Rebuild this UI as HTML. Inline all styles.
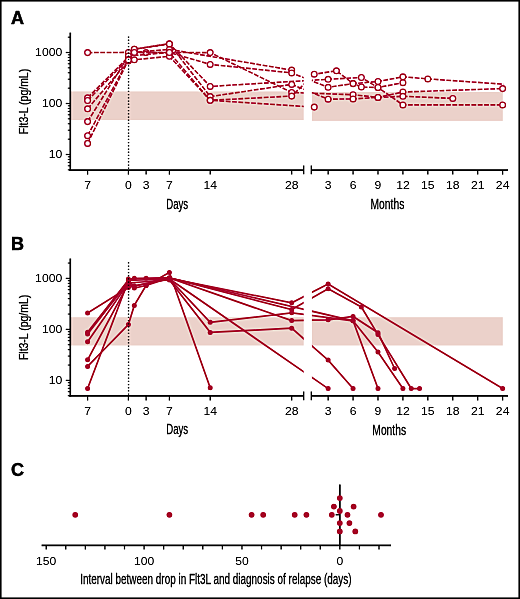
<!DOCTYPE html><html><head><meta charset="utf-8"><style>html,body{margin:0;padding:0;background:#fff;}svg{display:block;will-change:transform;}text{font-family:"Liberation Sans",sans-serif;}</style></head><body><svg width="520" height="599" viewBox="0 0 520 599" font-family="Liberation Sans, sans-serif">
<defs>
<clipPath id="cl"><rect x="70" y="0" width="233.7" height="599"/></clipPath>
<clipPath id="cr"><rect x="311.9" y="0" width="191.5" height="599"/></clipPath>
<filter id="sh" x="0" y="0" width="520" height="599" filterUnits="userSpaceOnUse" color-interpolation-filters="sRGB"><feGaussianBlur in="SourceGraphic" stdDeviation="1" result="b"/><feComposite in="SourceGraphic" in2="b" operator="arithmetic" k1="0" k2="1.45" k3="-0.45" k4="0"/></filter>
</defs>
<g filter="url(#sh)">
<rect x="0" y="0" width="520" height="599" fill="#fff"/>
<rect x="71" y="91.4" width="232.7" height="28.69999999999999" fill="#ebd1ca"/>
<rect x="311.9" y="91.9" width="190.90000000000003" height="29.0" fill="#ebd1ca"/>
<polyline clip-path="url(#cl)" fill="none" stroke="#a8002c" stroke-width="1.6" stroke-dasharray="4.8 1.55" points="87.60,52.60 128.40,52.40 146.10,52.60 169.40,52.50 210.20,52.60 291.70,92.50 353.06,94.70 377.99,97.40 402.92,92.00 502.64,88.60"/>
<polyline clip-path="url(#cr)" fill="none" stroke="#a8002c" stroke-width="1.6" stroke-dasharray="4.8 1.55" points="87.60,52.60 128.40,52.40 146.10,52.60 169.40,52.50 210.20,52.60 291.70,92.50 353.06,94.70 377.99,97.40 402.92,92.00 502.64,88.60"/>
<g fill="#fff" stroke="#a8002c" stroke-width="1.35">
<circle cx="87.60" cy="52.60" r="2.85"/>
<circle cx="128.40" cy="52.40" r="2.85"/>
<circle cx="146.10" cy="52.60" r="2.85"/>
<circle cx="169.40" cy="52.50" r="2.85"/>
<circle cx="210.20" cy="52.60" r="2.85"/>
<circle cx="291.70" cy="92.50" r="2.85"/>
<circle cx="353.06" cy="94.70" r="2.85"/>
<circle cx="377.99" cy="97.40" r="2.85"/>
<circle cx="402.92" cy="92.00" r="2.85"/>
<circle cx="502.64" cy="88.60" r="2.85"/>
</g>
<polyline clip-path="url(#cl)" fill="none" stroke="#a8002c" stroke-width="1.6" stroke-dasharray="4.8 1.55" points="87.60,97.80 128.40,57.00 134.30,49.20 169.40,43.70 210.20,86.40 328.13,79.30 361.37,77.50 377.99,87.50 402.92,104.90 502.64,104.90"/>
<polyline clip-path="url(#cr)" fill="none" stroke="#a8002c" stroke-width="1.6" stroke-dasharray="4.8 1.55" points="87.60,97.80 128.40,57.00 134.30,49.20 169.40,43.70 210.20,86.40 328.13,79.30 361.37,77.50 377.99,87.50 402.92,104.90 502.64,104.90"/>
<g fill="#fff" stroke="#a8002c" stroke-width="1.35">
<circle cx="87.60" cy="97.80" r="2.85"/>
<circle cx="128.40" cy="57.00" r="2.85"/>
<circle cx="134.30" cy="49.20" r="2.85"/>
<circle cx="169.40" cy="43.70" r="2.85"/>
<circle cx="210.20" cy="86.40" r="2.85"/>
<circle cx="328.13" cy="79.30" r="2.85"/>
<circle cx="361.37" cy="77.50" r="2.85"/>
<circle cx="377.99" cy="87.50" r="2.85"/>
<circle cx="402.92" cy="104.90" r="2.85"/>
<circle cx="502.64" cy="104.90" r="2.85"/>
</g>
<polyline clip-path="url(#cl)" fill="none" stroke="#a8002c" stroke-width="1.6" stroke-dasharray="4.8 1.55" points="87.60,100.50 128.40,58.50 134.30,52.40 169.40,49.40 291.70,70.10"/>
<polyline clip-path="url(#cr)" fill="none" stroke="#a8002c" stroke-width="1.6" stroke-dasharray="4.8 1.55" points="87.60,100.50 128.40,58.50 134.30,52.40 169.40,49.40 291.70,70.10"/>
<g fill="#fff" stroke="#a8002c" stroke-width="1.35">
<circle cx="87.60" cy="100.50" r="2.85"/>
<circle cx="128.40" cy="58.50" r="2.85"/>
<circle cx="134.30" cy="52.40" r="2.85"/>
<circle cx="169.40" cy="49.40" r="2.85"/>
<circle cx="291.70" cy="70.10" r="2.85"/>
</g>
<polyline clip-path="url(#cl)" fill="none" stroke="#a8002c" stroke-width="1.6" stroke-dasharray="4.8 1.55" points="87.60,108.80 128.40,61.00 134.30,49.20 169.40,43.90 210.20,96.60 291.70,84.40 328.13,99.20 353.06,98.90 377.99,97.40 402.92,96.30 452.78,98.40"/>
<polyline clip-path="url(#cr)" fill="none" stroke="#a8002c" stroke-width="1.6" stroke-dasharray="4.8 1.55" points="87.60,108.80 128.40,61.00 134.30,49.20 169.40,43.90 210.20,96.60 291.70,84.40 328.13,99.20 353.06,98.90 377.99,97.40 402.92,96.30 452.78,98.40"/>
<g fill="#fff" stroke="#a8002c" stroke-width="1.35">
<circle cx="87.60" cy="108.80" r="2.85"/>
<circle cx="128.40" cy="61.00" r="2.85"/>
<circle cx="134.30" cy="49.20" r="2.85"/>
<circle cx="169.40" cy="43.90" r="2.85"/>
<circle cx="210.20" cy="96.60" r="2.85"/>
<circle cx="291.70" cy="84.40" r="2.85"/>
<circle cx="328.13" cy="99.20" r="2.85"/>
<circle cx="353.06" cy="98.90" r="2.85"/>
<circle cx="377.99" cy="97.40" r="2.85"/>
<circle cx="402.92" cy="96.30" r="2.85"/>
<circle cx="452.78" cy="98.40" r="2.85"/>
</g>
<polyline clip-path="url(#cl)" fill="none" stroke="#a8002c" stroke-width="1.6" stroke-dasharray="4.8 1.55" points="87.60,121.60 128.40,56.00 169.40,52.50 210.20,64.40 291.70,72.90 328.13,87.30 353.06,83.60 361.37,87.00 377.99,87.50 402.92,82.70"/>
<polyline clip-path="url(#cr)" fill="none" stroke="#a8002c" stroke-width="1.6" stroke-dasharray="4.8 1.55" points="87.60,121.60 128.40,56.00 169.40,52.50 210.20,64.40 291.70,72.90 328.13,87.30 353.06,83.60 361.37,87.00 377.99,87.50 402.92,82.70"/>
<g fill="#fff" stroke="#a8002c" stroke-width="1.35">
<circle cx="87.60" cy="121.60" r="2.85"/>
<circle cx="128.40" cy="56.00" r="2.85"/>
<circle cx="169.40" cy="52.50" r="2.85"/>
<circle cx="210.20" cy="64.40" r="2.85"/>
<circle cx="291.70" cy="72.90" r="2.85"/>
<circle cx="328.13" cy="87.30" r="2.85"/>
<circle cx="353.06" cy="83.60" r="2.85"/>
<circle cx="361.37" cy="87.00" r="2.85"/>
<circle cx="377.99" cy="87.50" r="2.85"/>
<circle cx="402.92" cy="82.70" r="2.85"/>
</g>
<polyline clip-path="url(#cl)" fill="none" stroke="#a8002c" stroke-width="1.6" stroke-dasharray="4.8 1.55" points="87.60,135.70 128.40,59.50 134.30,59.80 169.40,56.30 210.20,100.30 314.25,107.10"/>
<polyline clip-path="url(#cr)" fill="none" stroke="#a8002c" stroke-width="1.6" stroke-dasharray="4.8 1.55" points="87.60,135.70 128.40,59.50 134.30,59.80 169.40,56.30 210.20,100.30 314.25,107.10"/>
<g fill="#fff" stroke="#a8002c" stroke-width="1.35">
<circle cx="87.60" cy="135.70" r="2.85"/>
<circle cx="128.40" cy="59.50" r="2.85"/>
<circle cx="134.30" cy="59.80" r="2.85"/>
<circle cx="169.40" cy="56.30" r="2.85"/>
<circle cx="210.20" cy="100.30" r="2.85"/>
<circle cx="314.25" cy="107.10" r="2.85"/>
</g>
<polyline clip-path="url(#cl)" fill="none" stroke="#a8002c" stroke-width="1.6" stroke-dasharray="4.8 1.55" points="87.60,143.40 128.40,60.00 134.30,52.40 169.40,52.50 210.20,100.30 291.70,96.10 314.25,74.20 336.44,70.80 353.06,83.60 377.99,81.50 402.92,76.80 427.85,78.90 519.26,85.30"/>
<polyline clip-path="url(#cr)" fill="none" stroke="#a8002c" stroke-width="1.6" stroke-dasharray="4.8 1.55" points="87.60,143.40 128.40,60.00 134.30,52.40 169.40,52.50 210.20,100.30 291.70,96.10 314.25,74.20 336.44,70.80 353.06,83.60 377.99,81.50 402.92,76.80 427.85,78.90 519.26,85.30"/>
<g fill="#fff" stroke="#a8002c" stroke-width="1.35">
<circle cx="87.60" cy="143.40" r="2.85"/>
<circle cx="128.40" cy="60.00" r="2.85"/>
<circle cx="134.30" cy="52.40" r="2.85"/>
<circle cx="169.40" cy="52.50" r="2.85"/>
<circle cx="210.20" cy="100.30" r="2.85"/>
<circle cx="291.70" cy="96.10" r="2.85"/>
<circle cx="314.25" cy="74.20" r="2.85"/>
<circle cx="336.44" cy="70.80" r="2.85"/>
<circle cx="353.06" cy="83.60" r="2.85"/>
<circle cx="377.99" cy="81.50" r="2.85"/>
<circle cx="402.92" cy="76.80" r="2.85"/>
<circle cx="427.85" cy="78.90" r="2.85"/>
</g>
<line x1="128.55" y1="36.4" x2="128.55" y2="170" stroke="#000" stroke-width="1.35" stroke-dasharray="1.3 1.9" />
<line x1="70.3" y1="32.6" x2="70.3" y2="170.9" stroke="#000" stroke-width="1.7"/>
<line x1="67.8" y1="169.85" x2="70.5" y2="169.85" stroke="#000" stroke-width="1.1"/>
<line x1="67.8" y1="165.81" x2="70.5" y2="165.81" stroke="#000" stroke-width="1.1"/>
<line x1="67.8" y1="162.40" x2="70.5" y2="162.40" stroke="#000" stroke-width="1.1"/>
<line x1="67.8" y1="159.44" x2="70.5" y2="159.44" stroke="#000" stroke-width="1.1"/>
<line x1="67.8" y1="156.83" x2="70.5" y2="156.83" stroke="#000" stroke-width="1.1"/>
<line x1="65.8" y1="154.50" x2="70.5" y2="154.50" stroke="#000" stroke-width="1.3"/>
<line x1="67.8" y1="139.15" x2="70.5" y2="139.15" stroke="#000" stroke-width="1.1"/>
<line x1="67.8" y1="130.17" x2="70.5" y2="130.17" stroke="#000" stroke-width="1.1"/>
<line x1="67.8" y1="123.79" x2="70.5" y2="123.79" stroke="#000" stroke-width="1.1"/>
<line x1="67.8" y1="118.85" x2="70.5" y2="118.85" stroke="#000" stroke-width="1.1"/>
<line x1="67.8" y1="114.81" x2="70.5" y2="114.81" stroke="#000" stroke-width="1.1"/>
<line x1="67.8" y1="111.40" x2="70.5" y2="111.40" stroke="#000" stroke-width="1.1"/>
<line x1="67.8" y1="108.44" x2="70.5" y2="108.44" stroke="#000" stroke-width="1.1"/>
<line x1="67.8" y1="105.83" x2="70.5" y2="105.83" stroke="#000" stroke-width="1.1"/>
<line x1="65.8" y1="103.50" x2="70.5" y2="103.50" stroke="#000" stroke-width="1.3"/>
<line x1="67.8" y1="88.15" x2="70.5" y2="88.15" stroke="#000" stroke-width="1.1"/>
<line x1="67.8" y1="79.17" x2="70.5" y2="79.17" stroke="#000" stroke-width="1.1"/>
<line x1="67.8" y1="72.79" x2="70.5" y2="72.79" stroke="#000" stroke-width="1.1"/>
<line x1="67.8" y1="67.85" x2="70.5" y2="67.85" stroke="#000" stroke-width="1.1"/>
<line x1="67.8" y1="63.81" x2="70.5" y2="63.81" stroke="#000" stroke-width="1.1"/>
<line x1="67.8" y1="60.40" x2="70.5" y2="60.40" stroke="#000" stroke-width="1.1"/>
<line x1="67.8" y1="57.44" x2="70.5" y2="57.44" stroke="#000" stroke-width="1.1"/>
<line x1="67.8" y1="54.83" x2="70.5" y2="54.83" stroke="#000" stroke-width="1.1"/>
<line x1="65.8" y1="52.50" x2="70.5" y2="52.50" stroke="#000" stroke-width="1.3"/>
<line x1="67.8" y1="37.15" x2="70.5" y2="37.15" stroke="#000" stroke-width="1.1"/>
<text transform="translate(62.20,56.30) scale(1.15,1)" font-size="10.6" text-anchor="end" font-weight="normal" fill="#000">1000</text>
<text transform="translate(62.20,107.30) scale(1.15,1)" font-size="10.6" text-anchor="end" font-weight="normal" fill="#000">100</text>
<text transform="translate(62.20,158.30) scale(1.15,1)" font-size="10.6" text-anchor="end" font-weight="normal" fill="#000">10</text>
<line x1="69.45" y1="170.05" x2="303.7" y2="170.05" stroke="#000" stroke-width="1.7"/>
<line x1="303.7" y1="165.6" x2="303.7" y2="174.3" stroke="#000" stroke-width="1.3"/>
<line x1="311.3" y1="170.05" x2="508" y2="170.05" stroke="#000" stroke-width="1.7"/>
<line x1="311.3" y1="165.6" x2="311.3" y2="174.3" stroke="#000" stroke-width="1.3"/>
<line x1="87.6" y1="170.05" x2="87.6" y2="174.6" stroke="#000" stroke-width="1.3"/>
<text transform="translate(87.60,189.40) scale(1.15,1)" font-size="10.6" text-anchor="middle" font-weight="normal" fill="#000">7</text>
<line x1="128.4" y1="170.05" x2="128.4" y2="174.6" stroke="#000" stroke-width="1.3"/>
<text transform="translate(128.40,189.40) scale(1.15,1)" font-size="10.6" text-anchor="middle" font-weight="normal" fill="#000">0</text>
<line x1="146.1" y1="170.05" x2="146.1" y2="174.6" stroke="#000" stroke-width="1.3"/>
<text transform="translate(146.10,189.40) scale(1.15,1)" font-size="10.6" text-anchor="middle" font-weight="normal" fill="#000">3</text>
<line x1="169.4" y1="170.05" x2="169.4" y2="174.6" stroke="#000" stroke-width="1.3"/>
<text transform="translate(169.40,189.40) scale(1.15,1)" font-size="10.6" text-anchor="middle" font-weight="normal" fill="#000">7</text>
<line x1="210.2" y1="170.05" x2="210.2" y2="174.6" stroke="#000" stroke-width="1.3"/>
<text transform="translate(210.20,189.40) scale(1.15,1)" font-size="10.6" text-anchor="middle" font-weight="normal" fill="#000">14</text>
<line x1="291.7" y1="170.05" x2="291.7" y2="174.6" stroke="#000" stroke-width="1.3"/>
<text transform="translate(291.70,189.40) scale(1.15,1)" font-size="10.6" text-anchor="middle" font-weight="normal" fill="#000">28</text>
<line x1="328.13" y1="170.05" x2="328.13" y2="174.6" stroke="#000" stroke-width="1.3"/>
<text transform="translate(328.13,189.40) scale(1.15,1)" font-size="10.6" text-anchor="middle" font-weight="normal" fill="#000">3</text>
<line x1="353.06" y1="170.05" x2="353.06" y2="174.6" stroke="#000" stroke-width="1.3"/>
<text transform="translate(353.06,189.40) scale(1.15,1)" font-size="10.6" text-anchor="middle" font-weight="normal" fill="#000">6</text>
<line x1="377.99" y1="170.05" x2="377.99" y2="174.6" stroke="#000" stroke-width="1.3"/>
<text transform="translate(377.99,189.40) scale(1.15,1)" font-size="10.6" text-anchor="middle" font-weight="normal" fill="#000">9</text>
<line x1="402.92" y1="170.05" x2="402.92" y2="174.6" stroke="#000" stroke-width="1.3"/>
<text transform="translate(402.92,189.40) scale(1.15,1)" font-size="10.6" text-anchor="middle" font-weight="normal" fill="#000">12</text>
<line x1="427.85" y1="170.05" x2="427.85" y2="174.6" stroke="#000" stroke-width="1.3"/>
<text transform="translate(427.85,189.40) scale(1.15,1)" font-size="10.6" text-anchor="middle" font-weight="normal" fill="#000">15</text>
<line x1="452.78" y1="170.05" x2="452.78" y2="174.6" stroke="#000" stroke-width="1.3"/>
<text transform="translate(452.78,189.40) scale(1.15,1)" font-size="10.6" text-anchor="middle" font-weight="normal" fill="#000">18</text>
<line x1="477.71" y1="170.05" x2="477.71" y2="174.6" stroke="#000" stroke-width="1.3"/>
<text transform="translate(477.71,189.40) scale(1.15,1)" font-size="10.6" text-anchor="middle" font-weight="normal" fill="#000">21</text>
<line x1="502.64" y1="170.05" x2="502.64" y2="174.6" stroke="#000" stroke-width="1.3"/>
<text transform="translate(502.64,189.40) scale(1.15,1)" font-size="10.6" text-anchor="middle" font-weight="normal" fill="#000">24</text>
<text transform="translate(177.20,208.50) scale(0.687,1)" font-size="14" text-anchor="middle" font-weight="normal" fill="#000" stroke="#000" stroke-width="0.28">Days</text>
<text transform="translate(387.40,208.60) scale(0.736,1)" font-size="14" text-anchor="middle" font-weight="normal" fill="#000" stroke="#000" stroke-width="0.28">Months</text>
<text transform="translate(27.80,101.50) rotate(-90) scale(0.776,1)" font-size="13.5" text-anchor="middle" font-weight="normal" fill="#000" stroke="#000" stroke-width="0.28">Flt3-L (pg/mL)</text>
<text transform="translate(17.40,23.70)" font-size="18" text-anchor="middle" font-weight="bold" fill="#000" stroke="#000" stroke-width="0.5">A</text>
<rect x="71" y="317.2" width="232.7" height="28.30000000000001" fill="#ebd1ca"/>
<rect x="311.9" y="317.2" width="190.90000000000003" height="28.30000000000001" fill="#ebd1ca"/>
<g clip-path="url(#cl)" fill="none" stroke="#a8002c" stroke-width="1.75">
<polyline points="87.60,313.00 128.40,287.50 169.40,278.50 291.70,302.80 328.13,283.90 502.64,388.50"/>
<polyline points="87.60,332.20 128.40,280.00 134.30,278.30 146.10,278.30 169.40,278.00 291.70,309.60 328.13,288.80 361.37,307.00 377.99,334.60 411.23,388.50 419.54,388.50"/>
<polyline points="87.60,333.90 128.40,282.00 134.30,285.80 169.40,279.00 210.20,322.30 291.70,312.80 353.06,320.80 377.99,351.90 402.92,388.50"/>
<polyline points="87.60,341.70 128.40,283.00 169.40,280.00 210.20,332.40 291.70,328.20 328.13,360.10 353.06,388.50"/>
<polyline points="87.60,359.80 128.40,283.50 134.30,288.00 146.10,285.50 169.40,278.00 291.70,320.60 328.13,319.80 353.06,316.40 377.99,332.70 394.61,368.50"/>
<polyline points="87.60,366.40 128.40,324.50 134.30,305.40 146.10,285.50 169.40,272.40 210.20,387.80"/>
<polyline points="87.60,388.50 128.40,280.50 169.40,279.00 328.13,388.60"/>
<polyline points="128.40,279.00 169.40,278.00 353.06,320.80 377.99,388.50"/>
</g>
<g clip-path="url(#cr)" fill="none" stroke="#a8002c" stroke-width="1.75">
<polyline points="87.60,313.00 128.40,287.50 169.40,278.50 291.70,302.80 328.13,283.90 502.64,388.50"/>
<polyline points="87.60,332.20 128.40,280.00 134.30,278.30 146.10,278.30 169.40,278.00 291.70,309.60 328.13,288.80 361.37,307.00 377.99,334.60 411.23,388.50 419.54,388.50"/>
<polyline points="87.60,333.90 128.40,282.00 134.30,285.80 169.40,279.00 210.20,322.30 291.70,312.80 353.06,320.80 377.99,351.90 402.92,388.50"/>
<polyline points="87.60,341.70 128.40,283.00 169.40,280.00 210.20,332.40 291.70,328.20 328.13,360.10 353.06,388.50"/>
<polyline points="87.60,359.80 128.40,283.50 134.30,288.00 146.10,285.50 169.40,278.00 291.70,320.60 328.13,319.80 353.06,316.40 377.99,332.70 394.61,368.50"/>
<polyline points="87.60,366.40 128.40,324.50 134.30,305.40 146.10,285.50 169.40,272.40 210.20,387.80"/>
<polyline points="87.60,388.50 128.40,280.50 169.40,279.00 328.13,388.60"/>
<polyline points="128.40,279.00 169.40,278.00 353.06,320.80 377.99,388.50"/>
</g>
<g fill="#a8002c">
<circle cx="87.60" cy="313.00" r="2.5"/>
<circle cx="128.40" cy="287.50" r="2.5"/>
<circle cx="169.40" cy="278.50" r="2.5"/>
<circle cx="291.70" cy="302.80" r="2.5"/>
<circle cx="328.13" cy="283.90" r="2.5"/>
<circle cx="502.64" cy="388.50" r="2.5"/>
<circle cx="87.60" cy="332.20" r="2.5"/>
<circle cx="128.40" cy="280.00" r="2.5"/>
<circle cx="134.30" cy="278.30" r="2.5"/>
<circle cx="146.10" cy="278.30" r="2.5"/>
<circle cx="169.40" cy="278.00" r="2.5"/>
<circle cx="291.70" cy="309.60" r="2.5"/>
<circle cx="328.13" cy="288.80" r="2.5"/>
<circle cx="361.37" cy="307.00" r="2.5"/>
<circle cx="377.99" cy="334.60" r="2.5"/>
<circle cx="411.23" cy="388.50" r="2.5"/>
<circle cx="419.54" cy="388.50" r="2.5"/>
<circle cx="87.60" cy="333.90" r="2.5"/>
<circle cx="128.40" cy="282.00" r="2.5"/>
<circle cx="134.30" cy="285.80" r="2.5"/>
<circle cx="169.40" cy="279.00" r="2.5"/>
<circle cx="210.20" cy="322.30" r="2.5"/>
<circle cx="291.70" cy="312.80" r="2.5"/>
<circle cx="353.06" cy="320.80" r="2.5"/>
<circle cx="377.99" cy="351.90" r="2.5"/>
<circle cx="402.92" cy="388.50" r="2.5"/>
<circle cx="87.60" cy="341.70" r="2.5"/>
<circle cx="128.40" cy="283.00" r="2.5"/>
<circle cx="169.40" cy="280.00" r="2.5"/>
<circle cx="210.20" cy="332.40" r="2.5"/>
<circle cx="291.70" cy="328.20" r="2.5"/>
<circle cx="328.13" cy="360.10" r="2.5"/>
<circle cx="353.06" cy="388.50" r="2.5"/>
<circle cx="87.60" cy="359.80" r="2.5"/>
<circle cx="128.40" cy="283.50" r="2.5"/>
<circle cx="134.30" cy="288.00" r="2.5"/>
<circle cx="146.10" cy="285.50" r="2.5"/>
<circle cx="169.40" cy="278.00" r="2.5"/>
<circle cx="291.70" cy="320.60" r="2.5"/>
<circle cx="328.13" cy="319.80" r="2.5"/>
<circle cx="353.06" cy="316.40" r="2.5"/>
<circle cx="377.99" cy="332.70" r="2.5"/>
<circle cx="394.61" cy="368.50" r="2.5"/>
<circle cx="87.60" cy="366.40" r="2.5"/>
<circle cx="128.40" cy="324.50" r="2.5"/>
<circle cx="134.30" cy="305.40" r="2.5"/>
<circle cx="146.10" cy="285.50" r="2.5"/>
<circle cx="169.40" cy="272.40" r="2.5"/>
<circle cx="210.20" cy="387.80" r="2.5"/>
<circle cx="87.60" cy="388.50" r="2.5"/>
<circle cx="128.40" cy="280.50" r="2.5"/>
<circle cx="169.40" cy="279.00" r="2.5"/>
<circle cx="328.13" cy="388.60" r="2.5"/>
<circle cx="128.40" cy="279.00" r="2.5"/>
<circle cx="169.40" cy="278.00" r="2.5"/>
<circle cx="353.06" cy="320.80" r="2.5"/>
<circle cx="377.99" cy="388.50" r="2.5"/>
</g>
<line x1="128.55" y1="262.3" x2="128.55" y2="395.9" stroke="#000" stroke-width="1.35" stroke-dasharray="1.3 1.9" />
<line x1="70.3" y1="258.5" x2="70.3" y2="396.80000000000007" stroke="#000" stroke-width="1.7"/>
<line x1="67.8" y1="395.75" x2="70.5" y2="395.75" stroke="#000" stroke-width="1.1"/>
<line x1="67.8" y1="391.71" x2="70.5" y2="391.71" stroke="#000" stroke-width="1.1"/>
<line x1="67.8" y1="388.30" x2="70.5" y2="388.30" stroke="#000" stroke-width="1.1"/>
<line x1="67.8" y1="385.34" x2="70.5" y2="385.34" stroke="#000" stroke-width="1.1"/>
<line x1="67.8" y1="382.73" x2="70.5" y2="382.73" stroke="#000" stroke-width="1.1"/>
<line x1="65.8" y1="380.40" x2="70.5" y2="380.40" stroke="#000" stroke-width="1.3"/>
<line x1="67.8" y1="365.05" x2="70.5" y2="365.05" stroke="#000" stroke-width="1.1"/>
<line x1="67.8" y1="356.07" x2="70.5" y2="356.07" stroke="#000" stroke-width="1.1"/>
<line x1="67.8" y1="349.69" x2="70.5" y2="349.69" stroke="#000" stroke-width="1.1"/>
<line x1="67.8" y1="344.75" x2="70.5" y2="344.75" stroke="#000" stroke-width="1.1"/>
<line x1="67.8" y1="340.71" x2="70.5" y2="340.71" stroke="#000" stroke-width="1.1"/>
<line x1="67.8" y1="337.30" x2="70.5" y2="337.30" stroke="#000" stroke-width="1.1"/>
<line x1="67.8" y1="334.34" x2="70.5" y2="334.34" stroke="#000" stroke-width="1.1"/>
<line x1="67.8" y1="331.73" x2="70.5" y2="331.73" stroke="#000" stroke-width="1.1"/>
<line x1="65.8" y1="329.40" x2="70.5" y2="329.40" stroke="#000" stroke-width="1.3"/>
<line x1="67.8" y1="314.05" x2="70.5" y2="314.05" stroke="#000" stroke-width="1.1"/>
<line x1="67.8" y1="305.07" x2="70.5" y2="305.07" stroke="#000" stroke-width="1.1"/>
<line x1="67.8" y1="298.69" x2="70.5" y2="298.69" stroke="#000" stroke-width="1.1"/>
<line x1="67.8" y1="293.75" x2="70.5" y2="293.75" stroke="#000" stroke-width="1.1"/>
<line x1="67.8" y1="289.71" x2="70.5" y2="289.71" stroke="#000" stroke-width="1.1"/>
<line x1="67.8" y1="286.30" x2="70.5" y2="286.30" stroke="#000" stroke-width="1.1"/>
<line x1="67.8" y1="283.34" x2="70.5" y2="283.34" stroke="#000" stroke-width="1.1"/>
<line x1="67.8" y1="280.73" x2="70.5" y2="280.73" stroke="#000" stroke-width="1.1"/>
<line x1="65.8" y1="278.40" x2="70.5" y2="278.40" stroke="#000" stroke-width="1.3"/>
<line x1="67.8" y1="263.05" x2="70.5" y2="263.05" stroke="#000" stroke-width="1.1"/>
<text transform="translate(62.20,282.20) scale(1.15,1)" font-size="10.6" text-anchor="end" font-weight="normal" fill="#000">1000</text>
<text transform="translate(62.20,333.20) scale(1.15,1)" font-size="10.6" text-anchor="end" font-weight="normal" fill="#000">100</text>
<text transform="translate(62.20,384.20) scale(1.15,1)" font-size="10.6" text-anchor="end" font-weight="normal" fill="#000">10</text>
<line x1="69.45" y1="395.95000000000005" x2="303.7" y2="395.95000000000005" stroke="#000" stroke-width="1.7"/>
<line x1="303.7" y1="391.5" x2="303.7" y2="400.20000000000005" stroke="#000" stroke-width="1.3"/>
<line x1="311.3" y1="395.95000000000005" x2="508" y2="395.95000000000005" stroke="#000" stroke-width="1.7"/>
<line x1="311.3" y1="391.5" x2="311.3" y2="400.20000000000005" stroke="#000" stroke-width="1.3"/>
<line x1="87.6" y1="395.95000000000005" x2="87.6" y2="400.5" stroke="#000" stroke-width="1.3"/>
<text transform="translate(87.60,415.30) scale(1.15,1)" font-size="10.6" text-anchor="middle" font-weight="normal" fill="#000">7</text>
<line x1="128.4" y1="395.95000000000005" x2="128.4" y2="400.5" stroke="#000" stroke-width="1.3"/>
<text transform="translate(128.40,415.30) scale(1.15,1)" font-size="10.6" text-anchor="middle" font-weight="normal" fill="#000">0</text>
<line x1="146.1" y1="395.95000000000005" x2="146.1" y2="400.5" stroke="#000" stroke-width="1.3"/>
<text transform="translate(146.10,415.30) scale(1.15,1)" font-size="10.6" text-anchor="middle" font-weight="normal" fill="#000">3</text>
<line x1="169.4" y1="395.95000000000005" x2="169.4" y2="400.5" stroke="#000" stroke-width="1.3"/>
<text transform="translate(169.40,415.30) scale(1.15,1)" font-size="10.6" text-anchor="middle" font-weight="normal" fill="#000">7</text>
<line x1="210.2" y1="395.95000000000005" x2="210.2" y2="400.5" stroke="#000" stroke-width="1.3"/>
<text transform="translate(210.20,415.30) scale(1.15,1)" font-size="10.6" text-anchor="middle" font-weight="normal" fill="#000">14</text>
<line x1="291.7" y1="395.95000000000005" x2="291.7" y2="400.5" stroke="#000" stroke-width="1.3"/>
<text transform="translate(291.70,415.30) scale(1.15,1)" font-size="10.6" text-anchor="middle" font-weight="normal" fill="#000">28</text>
<line x1="328.13" y1="395.95000000000005" x2="328.13" y2="400.5" stroke="#000" stroke-width="1.3"/>
<text transform="translate(328.13,415.30) scale(1.15,1)" font-size="10.6" text-anchor="middle" font-weight="normal" fill="#000">3</text>
<line x1="353.06" y1="395.95000000000005" x2="353.06" y2="400.5" stroke="#000" stroke-width="1.3"/>
<text transform="translate(353.06,415.30) scale(1.15,1)" font-size="10.6" text-anchor="middle" font-weight="normal" fill="#000">6</text>
<line x1="377.99" y1="395.95000000000005" x2="377.99" y2="400.5" stroke="#000" stroke-width="1.3"/>
<text transform="translate(377.99,415.30) scale(1.15,1)" font-size="10.6" text-anchor="middle" font-weight="normal" fill="#000">9</text>
<line x1="402.92" y1="395.95000000000005" x2="402.92" y2="400.5" stroke="#000" stroke-width="1.3"/>
<text transform="translate(402.92,415.30) scale(1.15,1)" font-size="10.6" text-anchor="middle" font-weight="normal" fill="#000">12</text>
<line x1="427.85" y1="395.95000000000005" x2="427.85" y2="400.5" stroke="#000" stroke-width="1.3"/>
<text transform="translate(427.85,415.30) scale(1.15,1)" font-size="10.6" text-anchor="middle" font-weight="normal" fill="#000">15</text>
<line x1="452.78" y1="395.95000000000005" x2="452.78" y2="400.5" stroke="#000" stroke-width="1.3"/>
<text transform="translate(452.78,415.30) scale(1.15,1)" font-size="10.6" text-anchor="middle" font-weight="normal" fill="#000">18</text>
<line x1="477.71" y1="395.95000000000005" x2="477.71" y2="400.5" stroke="#000" stroke-width="1.3"/>
<text transform="translate(477.71,415.30) scale(1.15,1)" font-size="10.6" text-anchor="middle" font-weight="normal" fill="#000">21</text>
<line x1="502.64" y1="395.95000000000005" x2="502.64" y2="400.5" stroke="#000" stroke-width="1.3"/>
<text transform="translate(502.64,415.30) scale(1.15,1)" font-size="10.6" text-anchor="middle" font-weight="normal" fill="#000">24</text>
<text transform="translate(177.20,434.40) scale(0.687,1)" font-size="14" text-anchor="middle" font-weight="normal" fill="#000" stroke="#000" stroke-width="0.28">Days</text>
<text transform="translate(389.20,434.50) scale(0.736,1)" font-size="14" text-anchor="middle" font-weight="normal" fill="#000" stroke="#000" stroke-width="0.28">Months</text>
<text transform="translate(27.80,327.40) rotate(-90) scale(0.776,1)" font-size="13.5" text-anchor="middle" font-weight="normal" fill="#000" stroke="#000" stroke-width="0.28">Flt3-L (pg/mL)</text>
<text transform="translate(17.40,249.60)" font-size="18" text-anchor="middle" font-weight="bold" fill="#000" stroke="#000" stroke-width="0.5">B</text>
<text transform="translate(17.40,475.50)" font-size="18" text-anchor="middle" font-weight="bold" fill="#000" stroke="#000" stroke-width="0.5">C</text>
<line x1="339.85" y1="484.6" x2="339.85" y2="545.2" stroke="#000" stroke-width="1.7"/>
<line x1="335.6" y1="514.8" x2="339.85" y2="514.8" stroke="#000" stroke-width="1.3"/>
<line x1="41.6" y1="545.3" x2="391" y2="545.3" stroke="#000" stroke-width="1.7"/>
<line x1="46.20" y1="545.2" x2="46.20" y2="549.4" stroke="#000" stroke-width="1.3"/>
<line x1="65.77" y1="545.2" x2="65.77" y2="549.4" stroke="#000" stroke-width="1.3"/>
<line x1="85.35" y1="545.2" x2="85.35" y2="549.4" stroke="#000" stroke-width="1.3"/>
<line x1="104.93" y1="545.2" x2="104.93" y2="549.4" stroke="#000" stroke-width="1.3"/>
<line x1="124.50" y1="545.2" x2="124.50" y2="549.4" stroke="#000" stroke-width="1.3"/>
<line x1="144.08" y1="545.2" x2="144.08" y2="549.4" stroke="#000" stroke-width="1.3"/>
<line x1="163.66" y1="545.2" x2="163.66" y2="549.4" stroke="#000" stroke-width="1.3"/>
<line x1="183.23" y1="545.2" x2="183.23" y2="549.4" stroke="#000" stroke-width="1.3"/>
<line x1="202.81" y1="545.2" x2="202.81" y2="549.4" stroke="#000" stroke-width="1.3"/>
<line x1="222.39" y1="545.2" x2="222.39" y2="549.4" stroke="#000" stroke-width="1.3"/>
<line x1="241.97" y1="545.2" x2="241.97" y2="549.4" stroke="#000" stroke-width="1.3"/>
<line x1="261.54" y1="545.2" x2="261.54" y2="549.4" stroke="#000" stroke-width="1.3"/>
<line x1="281.12" y1="545.2" x2="281.12" y2="549.4" stroke="#000" stroke-width="1.3"/>
<line x1="300.70" y1="545.2" x2="300.70" y2="549.4" stroke="#000" stroke-width="1.3"/>
<line x1="320.27" y1="545.2" x2="320.27" y2="549.4" stroke="#000" stroke-width="1.3"/>
<line x1="339.85" y1="545.2" x2="339.85" y2="549.4" stroke="#000" stroke-width="1.3"/>
<line x1="359.43" y1="545.2" x2="359.43" y2="549.4" stroke="#000" stroke-width="1.3"/>
<line x1="379.00" y1="545.2" x2="379.00" y2="549.4" stroke="#000" stroke-width="1.3"/>
<text transform="translate(46.20,564.60) scale(1.18,1)" font-size="10.3" text-anchor="middle" font-weight="normal" fill="#000">150</text>
<text transform="translate(144.08,564.60) scale(1.18,1)" font-size="10.3" text-anchor="middle" font-weight="normal" fill="#000">100</text>
<text transform="translate(241.97,564.60) scale(1.18,1)" font-size="10.3" text-anchor="middle" font-weight="normal" fill="#000">50</text>
<text transform="translate(339.85,564.60) scale(1.18,1)" font-size="10.3" text-anchor="middle" font-weight="normal" fill="#000">0</text>
<text transform="translate(215.85,584.00) scale(0.691,1)" font-size="14.4" text-anchor="middle" font-weight="normal" fill="#000" stroke="#000" stroke-width="0.28">Interval between drop in Flt3L and diagnosis of relapse (days)</text>
<g fill="#a8002c">
<circle cx="75.25" cy="514.8" r="2.9"/>
<circle cx="169.4" cy="514.8" r="2.9"/>
<circle cx="251.6" cy="514.8" r="2.9"/>
<circle cx="263.2" cy="514.8" r="2.9"/>
<circle cx="294.7" cy="514.8" r="2.9"/>
<circle cx="306.4" cy="514.8" r="2.9"/>
<circle cx="331.8" cy="514.8" r="2.9"/>
<circle cx="347.5" cy="514.8" r="2.9"/>
<circle cx="381.0" cy="514.8" r="2.9"/>
<circle cx="339.8" cy="498.1" r="2.9"/>
<circle cx="333.9" cy="506.6" r="2.9"/>
<circle cx="353.6" cy="506.6" r="2.9"/>
<circle cx="339.8" cy="511" r="2.9"/>
<circle cx="339.8" cy="523.1" r="2.9"/>
<circle cx="349.4" cy="523.1" r="2.9"/>
<circle cx="339.8" cy="531.4" r="2.9"/>
<circle cx="355.3" cy="531.4" r="2.9"/>
</g>
</g>
<rect x="0.8" y="0.8" width="518.4" height="597.4" fill="none" stroke="#000" stroke-width="1.6"/>
</svg></body></html>
